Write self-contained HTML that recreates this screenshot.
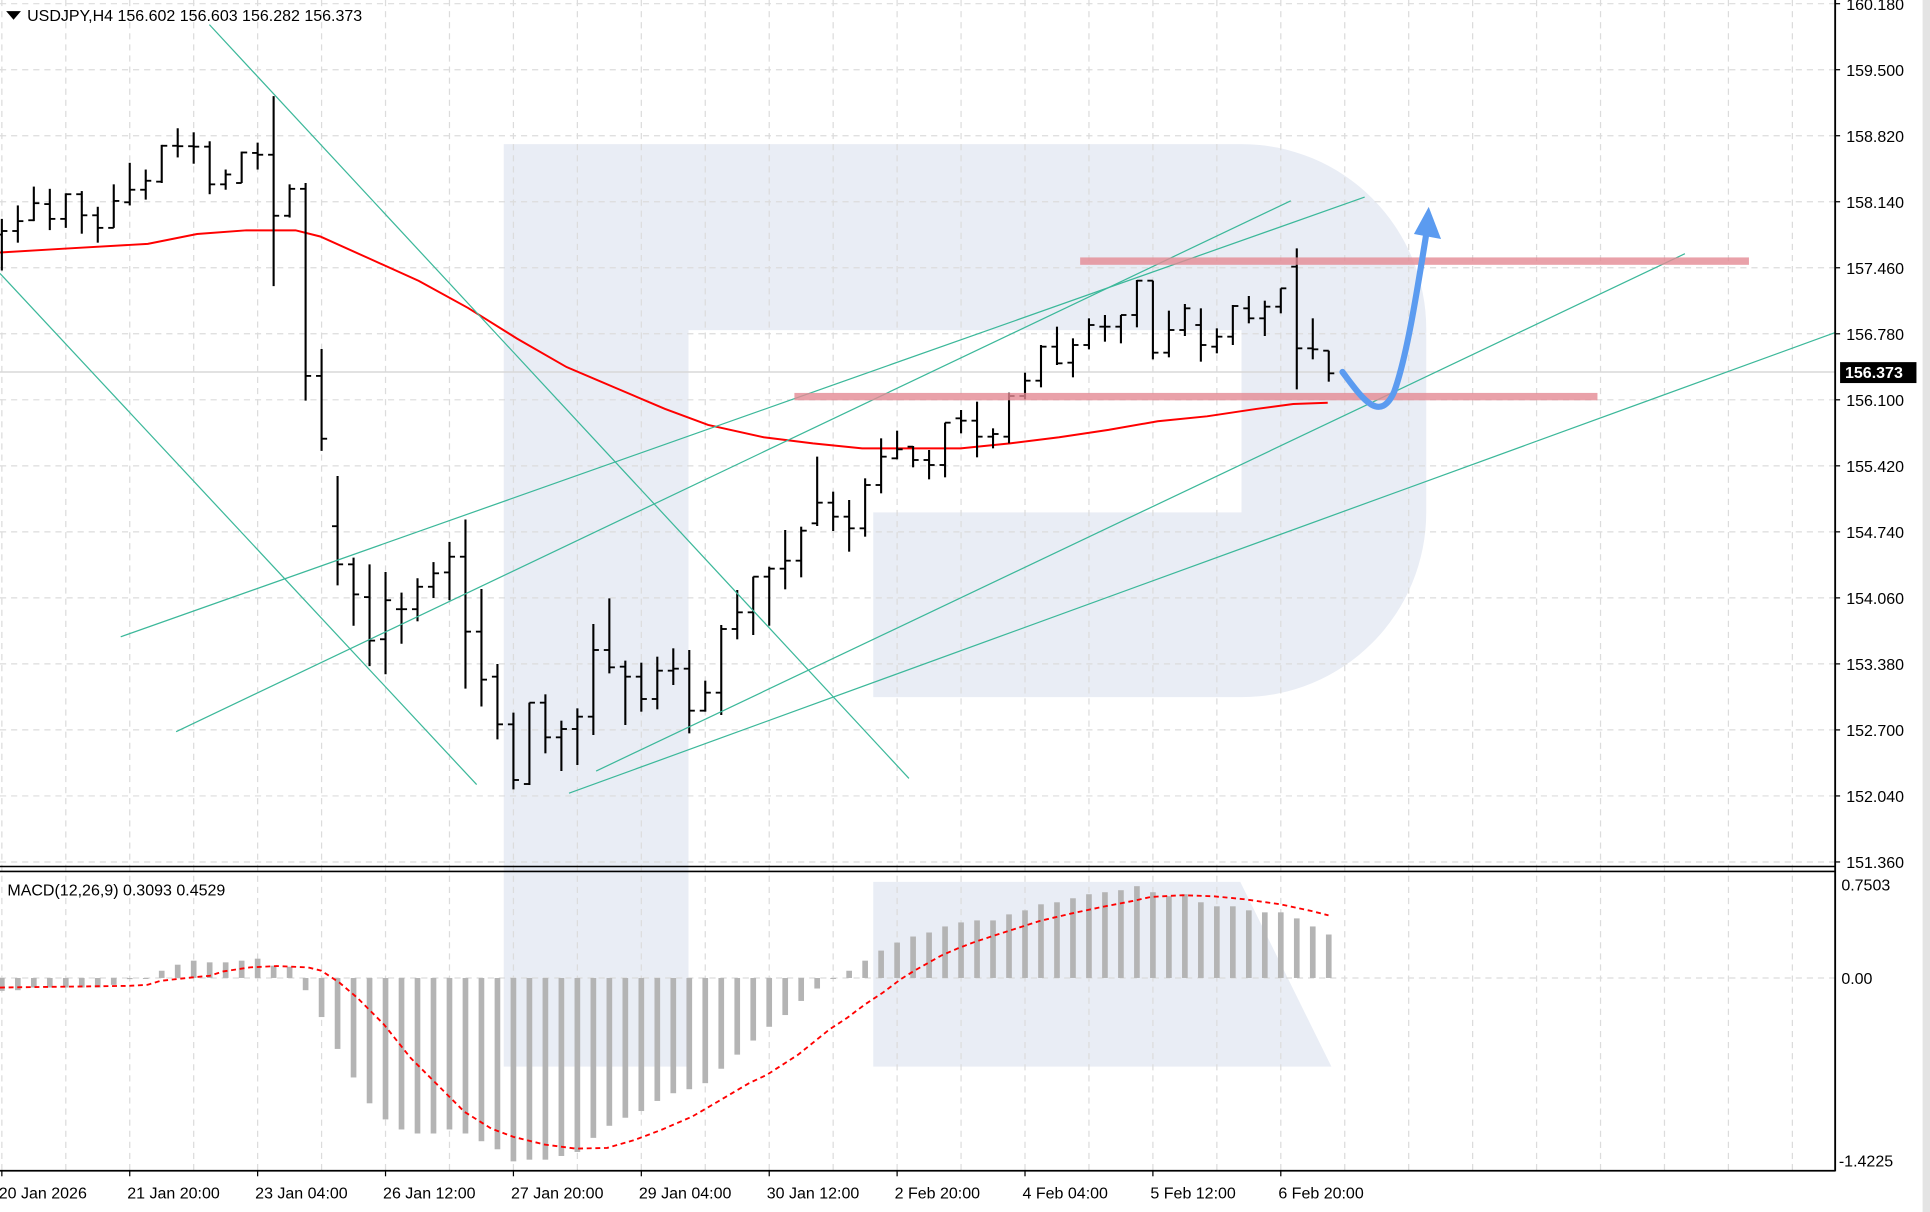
<!DOCTYPE html>
<html><head><meta charset="utf-8"><style>
html,body{margin:0;padding:0;background:#fff;overflow:hidden}
svg{display:block}
text{font-family:"Liberation Sans",sans-serif;font-size:13px;fill:#000}
</style></head><body>
<svg id="s" width="1930" height="1212" viewBox="0 0 1567 984" preserveAspectRatio="none" xmlns="http://www.w3.org/2000/svg">
<rect width="1567" height="984" fill="#fff"/>
<!-- watermark -->
<path d="M409,117 H1008 A150,150 0 0 1 1158,267 V416 A150,150 0 0 1 1008,566 H709 V416 H1008 V268 H559 V866 H409 Z" fill="#e9edf5"/>
<path d="M709,716 H1007 L1081,866 H709 Z" fill="#e9edf5"/>
<g id="grid"></g>
<line x1="0" y1="302" x2="1490" y2="302" stroke="#d8d8d8" stroke-width="1.2"/>
<g id="ema"></g>
<g id="bars"></g>
<g id="tl" stroke="#3cb89a" stroke-width="1" fill="none">
<line x1="170" y1="20" x2="738" y2="632"/>
<line x1="0" y1="222" x2="387" y2="637"/>
<line x1="98" y1="517" x2="1108" y2="160"/>
<line x1="143" y1="594" x2="1048" y2="163"/>
<line x1="484" y1="626" x2="1368" y2="206"/>
<line x1="462" y1="644" x2="1490" y2="270"/>
</g>
<rect x="877" y="209" width="543" height="6" fill="#e48a94" opacity="0.8"/>
<rect x="645" y="319" width="652" height="6" fill="#e48a94" opacity="0.8"/>
<path d="M1090,302 C1105,322 1120,345 1132,318 C1142,290 1150,240 1158,190" stroke="#5b9bf0" stroke-width="5" fill="none" stroke-linecap="round"/>
<polygon points="1160,168 1170,194 1148,190" fill="#5b9bf0"/>
<g id="macd"></g>
<!-- frames -->
<line x1="1490" y1="0" x2="1490" y2="951" stroke="#000" stroke-width="1.5"/>
<line x1="0" y1="703.5" x2="1490" y2="703.5" stroke="#000" stroke-width="1.3"/>
<line x1="0" y1="707.5" x2="1490" y2="707.5" stroke="#000" stroke-width="1.3"/>
<line x1="0" y1="950.5" x2="1490" y2="950.5" stroke="#000" stroke-width="1.5"/>
<rect x="1561" y="0" width="6" height="984" fill="#e4e4e4"/>
<g id="axis"></g>
<polygon points="5,9 17,9 11,16" fill="#000"/>
<text x="22" y="17">USDJPY,H4  156.602 156.603 156.282 156.373</text>
<text x="6" y="727">MACD(12,26,9) 0.3093 0.4529</text>
<rect x="1494" y="294" width="62" height="17" fill="#000"/>
<text x="1498" y="307" style="fill:#fff;font-weight:bold">156.373</text>
</svg>
<script>
var NS="http://www.w3.org/2000/svg",h="";
function bx(i){return 1.5+12.98*i;}
// grid
var g="";
for(var k=0;k<=13;k++){var y=3+53.6*k;g+='<line x1="0" y1="'+y+'" x2="1490" y2="'+y+'" stroke="#dcdcdc" stroke-dasharray="5,4"/>';}
g+='<line x1="0" y1="794" x2="1490" y2="794" stroke="#dcdcdc" stroke-dasharray="5,4"/>';
for(var k=0;k<29;k++){var x=1.5+51.92*k;if(x>1488)break;g+='<line x1="'+x+'" y1="0" x2="'+x+'" y2="950" stroke="#dcdcdc" stroke-dasharray="5,4"/>';}
document.getElementById('grid').innerHTML=g;
// axis labels
var a="",pr=["160.180","159.500","158.820","158.140","157.460","156.780","156.100","155.420","154.740","154.060","153.380","152.700","152.040","151.360"];
for(var k=0;k<pr.length;k++){var y=3+53.6*k;a+='<line x1="1490" y1="'+y+'" x2="1494" y2="'+y+'" stroke="#000"/>';if(k!=6||true)a+='<text x="1499" y="'+(y+5)+'">'+pr[k]+'</text>';}
a+='<text x="1495" y="723">0.7503</text><text x="1495" y="799">0.00</text><text x="1493" y="947">-1.4225</text>';
var tl=["20 Jan 2026","21 Jan 20:00","23 Jan 04:00","26 Jan 12:00","27 Jan 20:00","29 Jan 04:00","30 Jan 12:00","2 Feb 20:00","4 Feb 04:00","5 Feb 12:00","6 Feb 20:00"];
for(var k=0;k<tl.length;k++){var x=bx(8*k);a+='<line x1="'+x+'" y1="950" x2="'+x+'" y2="955" stroke="#000"/>';a+='<text x="'+(k==0?-1:x-2)+'" y="973">'+tl[k]+'</text>';}
document.getElementById('axis').innerHTML=a;
// bars: [H,L,O,C]
var z5=function(v){return (v/2.229+100)/1.2317;},z6=function(v){return (v/3+400)/1.2317;},z7=function(v){return (v/3+230)/1.2317;};
var A=[[265,380,300,292],[235,318,292,270],[193,270,268,230],[198,290,232,265],[208,285,265,210],[203,298,210,257],[238,318,257,285],[188,285,285,225],[140,235,228,200],[155,222,200,180],[100,185,182,102],[63,128,102,103],[72,142,103,104],[92,210,104,188],[155,200,188,166],[115,185,185,117],[95,155,118,122],[-10,415,122,258],[188,262,258,198],[185,670,198,615],[555,782,615,755],[838,1082,950,1035],[1020,1172,1035,1102],[1035,1262,1108,1205],[1052,1280,1202,1115],[1098,1212,1135,1135],[1066,1162,1135,1085],[1030,1110,1085,1055],[985,1115,1053,1018],[935,1312,1018,1185],[1090,1352,1185,1292]];
var B=[[792,1018,830,973],[938,1168,973,1140],[908,1155,1152,908],[883,1060,908,1012],[962,1113,1012,987],[925,1095,987,950],[672,1005,950,750],[595,820,750,802],[782,975,800,830],[788,935,830,897],[770,928,897,812],[745,855,812,806],[750,1000,806,932],[842,935,932,878],[675,945,878,687],[570,718,687,637],[530,705,637,530],[500,677,530,506],[390,568,506,482],[380,532,482,392],[170,378,370,308],[275,393,308,350],[300,455,350,385],[235,410,385,255],[115,280,255,170],[92,178,175,148],[138,202,140,180],[150,238,180,195],[68,232,195,68]];
var C=[[540,610,565,572],[515,682,572,620],[595,655,620,612],[488,640,620,498],[428,508,498,452],[345,472,452,350],[290,405,350,400],[325,442,398,345],[265,358,345,285],[255,335,290,290],[255,340,290,255],[150,292,255,152],[152,388,152,368],[242,382,368,300],[222,318,300,235],[235,395,285,345],[295,370,350,320],[225,345,320,228],[198,280,235,265],[212,318,265,230],[175,250,230,175],[55,478,110,355],[265,388,355,358],[362,455,362,430]];
var bars=[];
A.forEach(function(b){bars.push(b.map(z5));});
B.forEach(function(b){bars.push(b.map(z6));});
C.forEach(function(b){bars.push(b.map(z7));});
bars[17][0]=78;
var s="";
bars.forEach(function(b,i){var x=bx(i);
s+='<line x1="'+x+'" y1="'+b[0]+'" x2="'+x+'" y2="'+b[1]+'" stroke="#000" stroke-width="1.7"/>';
s+='<line x1="'+(x-4.5)+'" y1="'+b[2]+'" x2="'+x+'" y2="'+b[2]+'" stroke="#000" stroke-width="1.5"/>';
s+='<line x1="'+x+'" y1="'+b[3]+'" x2="'+(x+4.5)+'" y2="'+b[3]+'" stroke="#000" stroke-width="1.5"/>';});
document.getElementById('bars').innerHTML=s;
// EMA
var E=[[0,205],[50,202],[120,198],[160,190],[200,187],[240,187],[260,192],[300,210],[340,228],[380,250],[420,275],[460,298],[500,315],[540,332],[575,345],[620,355],[660,360],[700,364],[740,364],[780,364],[820,360],[860,355],[900,349],[940,342],[980,338],[1020,332],[1050,328],[1078,327]];
document.getElementById('ema').innerHTML='<polyline points="'+E.join(' ')+'" fill="none" stroke="#f00" stroke-width="1.6"/>';
// MACD
var z3=function(v){return (860+v/2.98)/1.2317;};
var H1=[390,388,380,380,380,380,380,372,355,352,330,312,300,305,305,300,294,315,318,388,468,563,648,725,773,803,815,815,803,815,838,862,898,893,893,882,870,828,792,768,748,718,695,683];
var H2=[665,622,580,538,497,462,420,383,352,330,300,270,246,228,216,198,186,180,180,162,150,132,126,114,102,96,90,78,96,108,102,126,138,138,150,156,156,174,198,222];
var hv=H1.concat(H2).map(z3),m="";
hv.forEach(function(y,i){var x=bx(i);var y0=794;m+='<rect x="'+(x-2.3)+'" y="'+Math.min(y,y0)+'" width="4.6" height="'+Math.max(0.8,Math.abs(y-y0))+'" fill="#b4b4b4"/>';});
var S1=[[0,380],[290,375],[330,372],[360,360],[430,350],[470,345],[500,332],[560,320],[620,316],[690,320],[720,330],[760,365],[800,410],[860,490],[920,590],[980,670],[1040,750],[1100,800],[1150,825],[1220,848],[1290,860],[1360,858],[1420,835],[1480,805],[1550,765]];
var S2=[[40,720],[110,665],[150,640],[220,580],[290,505],[330,470],[370,430],[410,395],[450,355],[480,330],[540,285],[580,262],[620,242],[690,212],[760,182],[830,160],[900,140],[970,122],[1010,110],[1080,105],[1150,108],[1220,117],[1300,132],[1370,152],[1408,165]];
var pts=S1.map(function(p){return (p[0]/2.24/1.2317)+','+z3(p[1]);}).concat(S2.map(function(p){return ((700+p[0]/2.24)/1.2317)+','+z3(p[1]);}));
m+='<polyline points="'+pts.join(' ')+'" fill="none" stroke="#f00" stroke-width="1.5" stroke-dasharray="4,3"/>';
document.getElementById('macd').innerHTML=m;
</script>
</body></html>
